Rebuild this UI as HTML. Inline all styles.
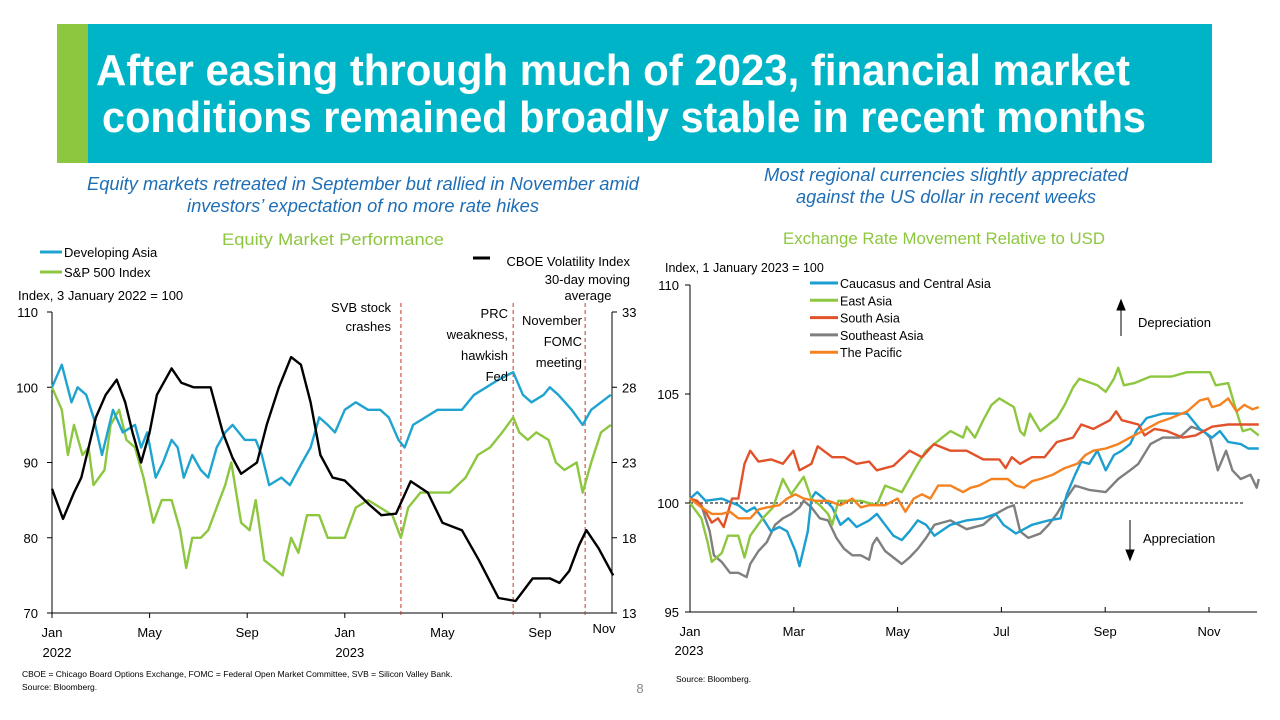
<!DOCTYPE html>
<html><head><meta charset="utf-8"><style>
html,body{margin:0;padding:0;background:#fff;width:1280px;height:720px;overflow:hidden}
svg{display:block;font-family:"Liberation Sans",sans-serif}
</style></head><body>
<svg id="s" width="1280" height="720" viewBox="0 0 1280 720">
<rect x="57" y="24" width="32" height="139" fill="#8DC63F"/>
<rect x="88" y="24" width="1124" height="139" fill="#00B4C8"/>
<text x="96" y="85" fill="#fff" font-size="44" font-weight="bold" textLength="1034" lengthAdjust="spacingAndGlyphs">After easing through much of 2023, financial market</text>
<text x="102" y="132" fill="#fff" font-size="44" font-weight="bold" textLength="1044" lengthAdjust="spacingAndGlyphs">conditions remained broadly stable in recent months</text>
<g fill="#1F6EB5" font-style="italic" font-size="18" text-anchor="middle">
<text x="363" y="190" textLength="552" lengthAdjust="spacingAndGlyphs">Equity markets retreated in September but rallied in November amid</text>
<text x="363" y="212" textLength="352" lengthAdjust="spacingAndGlyphs">investors’ expectation of no more rate hikes</text>
<text x="946" y="181" textLength="364" lengthAdjust="spacingAndGlyphs">Most regional currencies slightly appreciated</text>
<text x="946" y="203" textLength="300" lengthAdjust="spacingAndGlyphs">against the US dollar in recent weeks</text>
</g>
<g fill="#8DC63F" font-size="17" text-anchor="middle">
<text x="333" y="245" textLength="222" lengthAdjust="spacingAndGlyphs">Equity Market Performance</text>
<text x="944" y="244" textLength="322" lengthAdjust="spacingAndGlyphs">Exchange Rate Movement Relative to USD</text>
</g>
<g id="L"></g><g id="R"></g>
<text x="22" y="677" font-size="8.5" fill="#000">CBOE = Chicago Board Options Exchange, FOMC = Federal Open Market Committee, SVB = Silicon Valley Bank.</text>
<text x="22" y="690" font-size="8.5" fill="#000">Source: Bloomberg.</text>
<text x="676" y="682" font-size="8.5" fill="#000">Source: Bloomberg.</text>
<text x="640" y="693" font-size="13" fill="#888" text-anchor="middle">8</text>
</svg>
<script>
// ===== Left chart data (t = months since Jan 2022) =====
const daT=[0,.4,.8,1.05,1.4,1.7,2.05,2.5,2.9,3.4,3.65,3.9,4.25,4.55,4.9,5.15,5.4,5.75,6.1,6.4,6.75,7.1,7.4,7.9,8.35,8.6,8.9,9.4,9.75,10.25,10.6,10.95,11.3,11.6,12,12.45,12.95,13.45,13.8,14.2,14.45,14.8,15.3,15.8,16.3,16.8,17.3,17.8,18.3,18.9,19.3,19.65,20.15,20.4,20.75,21.3,21.75,22.1,22.5,22.9];
const daV=[100,103,98,100,99,96,91,97,94,95,92,94,88,90,93,92,88,91,89,88,92,94,95,93,93,91,87,88,87,90,92,96,95,94,97,98,97,97,96,93,92,95,96,97,97,97,99,100,101,102,99,98,99,100,99,97,95,97,98,99];
const spT=[0,.4,.65,.9,1.25,1.5,1.7,2.15,2.4,2.75,3.05,3.4,3.75,4.15,4.5,4.9,5.25,5.5,5.75,6.1,6.4,6.75,7.1,7.35,7.75,8.1,8.35,8.7,9.1,9.45,9.8,10.1,10.45,10.95,11.3,11.6,12,12.45,12.95,13.45,13.95,14.3,14.6,15.1,15.6,16.3,16.95,17.45,17.95,18.45,18.9,19.15,19.5,19.85,20.35,20.65,21,21.5,21.75,22.1,22.5,22.9];
const spV=[100,97,91,95,91,92,87,89,95,97,93,92,88,82,85,85,81,76,80,80,81,84,87,90,82,81,85,77,76,75,80,78,83,83,80,80,80,84,85,84,83,80,84,86,86,86,88,91,92,94,96,94,93,94,93,90,89,90,86,90,94,95];
const vxT=[0,.45,.9,1.2,1.8,2.2,2.65,3.0,3.3,3.65,4.0,4.3,4.9,5.3,5.8,6.5,7.0,7.4,7.75,8.4,8.8,9.3,9.8,10.2,10.6,11.0,11.5,12.0,12.5,13.0,13.5,14.1,14.7,15.4,16.0,16.8,17.5,18.3,19.0,19.7,20.4,20.8,21.2,21.6,21.9,22.4,23.0];
const vxV=[21.25,19.25,21,22,26,27.5,28.5,27,25,23,25,27.5,29.25,28.3,28,28,25,23.3,22.25,23,25.5,28,30,29.5,27,23.5,22,21.8,21,20.2,19.5,19.6,21.75,21,19,18.5,16.5,14,13.8,15.3,15.3,15,15.8,17.5,18.5,17.3,15.5];
const leftTicks=[110,100,90,80,70];
const rightTicks=[33,28,23,18,13];
const leftXLabels=["Jan","May","Sep","Jan","May","Sep"];
const leftXMonths=[0,4,8,12,16,20];
const eventT=[14.3,18.9,21.85];
// ===== Right chart data (t = months since Jan 2023) =====
const caT=[0,.14,.3,.61,.93,1.09,1.24,1.4,1.56,1.72,1.87,2.03,2.11,2.19,2.27,2.34,2.42,2.58,2.74,2.9,3.05,3.21,3.45,3.6,3.76,3.92,4.08,4.23,4.39,4.55,4.71,5.02,5.33,5.65,5.89,6.04,6.28,6.59,6.91,7.14,7.26,7.42,7.54,7.69,7.85,8.01,8.17,8.32,8.48,8.6,8.8,9.11,9.43,9.58,9.82,10.06,10.21,10.37,10.61,10.76,10.96];
const caV=[100.2,100.5,100.1,100.2,99.9,99.6,99.8,99.3,98.7,98.9,98.7,97.8,97.1,97.9,98.7,100.2,100.5,100.2,99.8,99.0,99.3,98.9,99.2,99.5,99.0,98.5,98.3,98.7,99.2,99.0,98.5,99.0,99.2,99.3,99.5,99.0,98.6,99.0,99.2,99.3,100.4,101.3,101.9,101.8,102.4,101.5,102.2,102.4,102.7,103.3,103.9,104.1,104.1,104.1,103.4,103.0,103.3,102.8,102.7,102.5,102.5];
const eaT=[0,.22,.34,.42,.61,.73,.93,1.05,1.16,1.4,1.6,1.79,1.95,2.19,2.34,2.5,2.66,2.74,2.86,3.29,3.6,3.76,4.08,4.39,4.55,4.86,5.02,5.26,5.33,5.49,5.65,5.81,5.96,6.24,6.36,6.44,6.55,6.75,6.91,7.07,7.22,7.38,7.5,7.85,8.01,8.17,8.25,8.36,8.56,8.87,9.27,9.58,9.82,10.02,10.13,10.37,10.53,10.65,10.8,10.96];
const eaV=[100,99.3,98.2,97.3,97.7,98.5,98.5,97.5,98.5,99.3,99.8,101.1,100.4,101.2,100.2,99.9,99.5,99.0,100.1,100.1,99.9,100.8,100.5,101.8,102.4,103.0,103.3,103.0,103.5,103.0,103.8,104.5,104.8,104.4,103.3,103.1,104.1,103.3,103.6,103.9,104.5,105.3,105.7,105.4,105.1,105.7,106.2,105.4,105.5,105.8,105.8,106.0,106.0,106.0,105.4,105.5,104.2,103.3,103.4,103.1];
const saT=[0,.14,.3,.42,.54,.65,.81,.93,1.05,1.16,1.32,1.56,1.79,1.99,2.11,2.34,2.46,2.74,2.97,3.21,3.45,3.6,3.92,4.23,4.47,4.7,5.02,5.33,5.65,5.96,6.08,6.2,6.36,6.59,6.83,7.07,7.38,7.54,7.77,8.09,8.21,8.32,8.64,8.76,8.95,9.19,9.5,9.74,10.06,10.37,10.68,10.96];
const saV=[100.2,100.1,99.6,99.1,99.3,98.9,100.2,100.2,101.8,102.4,101.9,102.0,101.8,102.4,101.5,101.8,102.6,102.1,102.1,101.8,101.9,101.5,101.7,102.4,102.1,102.7,102.4,102.4,102.0,102.0,101.6,102.1,101.8,102.1,102.1,102.8,103.0,103.6,103.4,103.8,104.2,103.8,103.6,103.1,103.4,103.3,103.0,103.1,103.5,103.6,103.6,103.6];
const seT=[0,.22,.38,.46,.61,.77,.93,1.09,1.16,1.32,1.48,1.64,1.79,1.95,2.11,2.19,2.34,2.5,2.66,2.82,2.97,3.13,3.29,3.45,3.52,3.6,3.76,3.92,4.08,4.23,4.39,4.55,4.71,5.02,5.33,5.65,5.89,6.12,6.24,6.36,6.52,6.75,6.91,7.07,7.22,7.42,7.69,8.01,8.25,8.48,8.64,8.87,9.11,9.43,9.66,9.9,10.02,10.17,10.33,10.45,10.61,10.8,10.92,10.96];
const seV=[100.2,99.9,98.7,97.6,97.3,96.8,96.8,96.6,97.2,97.8,98.2,99.0,99.3,99.5,99.8,100.1,99.8,99.3,99.2,98.4,97.9,97.6,97.6,97.4,98.1,98.4,97.8,97.5,97.2,97.5,97.9,98.4,99.0,99.2,98.8,99.0,99.5,99.8,99.9,98.7,98.4,98.6,99.0,99.5,100.1,100.8,100.6,100.5,101.1,101.5,101.8,102.7,103.0,103.0,103.5,103.3,103.0,101.5,102.4,101.5,101.1,101.3,100.7,101.1];
const paT=[0,.22,.42,.61,.77,.93,1.16,1.32,1.48,1.72,1.87,2.03,2.19,2.42,2.66,2.9,3.13,3.29,3.45,3.76,4.0,4.15,4.31,4.47,4.63,4.78,5.02,5.26,5.41,5.57,5.81,6.12,6.28,6.44,6.59,6.75,6.99,7.22,7.46,7.62,7.77,8.01,8.25,8.48,8.72,9.03,9.27,9.58,9.82,9.98,10.06,10.21,10.37,10.53,10.68,10.84,10.96];
const paV=[100.2,99.8,99.5,99.5,99.6,99.3,99.3,99.7,99.8,99.9,100.2,100.4,100.2,100.1,100.1,99.9,100.2,99.8,99.9,99.9,100.2,99.6,100.2,100.4,100.2,100.8,100.8,100.5,100.7,100.8,101.1,101.1,100.8,100.7,101.0,101.1,101.3,101.6,101.8,102.2,102.4,102.5,102.7,103.0,103.3,103.7,103.9,104.2,104.7,104.8,104.4,104.5,104.8,104.2,104.5,104.3,104.4];
const rTicks=[110,105,100,95];
const rXLabels=["Jan","Mar","May","Jul","Sep","Nov"];
const rXMonths=[0,2,4,6,8,10];

const NS="http://www.w3.org/2000/svg";
function mk(parent,tag,attrs,txt){const e=document.createElementNS(NS,tag);for(const k in attrs)e.setAttribute(k,attrs[k]);if(txt!==undefined)e.textContent=txt;parent.appendChild(e);return e;}
const xL=t=>52+t*24.4, yL=v=>312+(110-v)/40*301, yV=v=>312+(33-v)/20*301;
const xR=t=>690+t*51.9, yRr=v=>285+(110-v)/15*327;
function path(T,V,fx,fy){return T.map((t,i)=>(i?'L':'M')+fx(t).toFixed(1)+','+fy(V[i]).toFixed(1)).join('');}

const L=document.getElementById('L');
let a=mk(L,'path',{d:'M52,312V613H612V312',fill:'none',stroke:'#000','stroke-width':1});


leftTicks.forEach(v=>{
  let tk=mk(L,'line',{x1:47,x2:52,y1:yL(v),y2:yL(v),stroke:'#000'});
  
  
  let lb=mk(L,'text',{x:38,y:yL(v)+5,'font-size':13,'text-anchor':'end'},v);
  
  
});
rightTicks.forEach(v=>{
  let tk=mk(L,'line',{x1:612,x2:617,y1:yV(v),y2:yV(v),stroke:'#000'});
  
  
  let lb=mk(L,'text',{x:622,y:yV(v)+5,'font-size':13},v);
  
  
});
leftXMonths.forEach((m,i)=>{
  let tk=mk(L,'line',{x1:xL(m),x2:xL(m),y1:613,y2:618,stroke:'#000'});
  
  
  let lb=mk(L,'text',{x:xL(m),y:637,'font-size':13,'text-anchor':'middle'},leftXLabels[i]);
  
  
});
[['2022',0],['2023',12]].forEach(p=>{let lb=mk(L,'text',{x:xL(p[1])+5,y:657,'font-size':13,'text-anchor':'middle'},p[0]);
  
  });
let nov=mk(L,'text',{x:604,y:633,'font-size':13,'text-anchor':'middle'},'Nov');


eventT.forEach(t=>{let e=mk(L,'line',{x1:xL(t),x2:xL(t),y1:303,y2:615,stroke:'#C0392B','stroke-width':1,'stroke-dasharray':'4,3'});
  
  });
[[spT,spV,yL,'#8DC63F','sp500-line'],[daT,daV,yL,'#1FA4D0','developing-asia-line'],[vxT,vxV,yV,'#000','vix-line']].forEach(s=>{
  let p=mk(L,'path',{d:path(s[0],s[1],xL,s[2]),fill:'none',stroke:s[3],'stroke-width':2.4,'stroke-linejoin':'round'});
  
  
});
[[40,62,252,'#1FA4D0','Developing Asia'],[40,62,272,'#8DC63F','S&P 500 Index']].forEach(g=>{
  let l=mk(L,'line',{x1:g[0],x2:g[1],y1:g[2],y2:g[2],stroke:g[3],'stroke-width':3});
  
  
  let t=mk(L,'text',{x:g[1]+2,y:g[2]+5,'font-size':13},g[4]);
  
  
});
let vl=mk(L,'line',{x1:473,x2:490,y1:258,y2:258,stroke:'#000','stroke-width':3});


const txts=[[630,266,'end','CBOE Volatility Index'],[630,284,'end','30-day moving'],[588,300,'middle','average'],[18,300,'start','Index, 3 January 2022 = 100'],
[391,312,'end','SVB stock'],[391,331,'end','crashes'],[508,318,'end','PRC'],[508,339,'end','weakness,'],[508,360,'end','hawkish'],[508,381,'end','Fed'],
[582,325,'end','November'],[582,346,'end','FOMC'],[582,367,'end','meeting']];
txts.forEach(q=>{let t=mk(L,'text',{x:q[0],y:q[1],'font-size':13,'text-anchor':q[2]},q[3]);
  
  });

const R=document.getElementById('R');
let ra=mk(R,'path',{d:'M690,285V612H1257',fill:'none',stroke:'#000','stroke-width':1});


rTicks.forEach(v=>{
  let tk=mk(R,'line',{x1:685,x2:690,y1:yRr(v),y2:yRr(v),stroke:'#000'});
  
  
  let lb=mk(R,'text',{x:679,y:yRr(v)+5,'font-size':13,'text-anchor':'end'},v);
  
  
});
rXMonths.forEach((m,i)=>{
  let tk=mk(R,'line',{x1:xR(m),x2:xR(m),y1:607,y2:612,stroke:'#000'});
  
  
  let lb=mk(R,'text',{x:xR(m),y:636,'font-size':13,'text-anchor':'middle'},rXLabels[i]);
  
  
});
let ry=mk(R,'text',{x:689,y:655,'font-size':13,'text-anchor':'middle'},'2023');


let base=mk(R,'line',{x1:690,x2:1245,y1:yRr(100),y2:yRr(100),stroke:'#000','stroke-dasharray':'3,2'});


const rSeries=[[caT,caV,'#1B9ED0','Caucasus and Central Asia','caucasus-line'],[eaT,eaV,'#8DC63F','East Asia','east-asia-line'],[saT,saV,'#E2522A','South Asia','south-asia-line'],[seT,seV,'#7F7F7F','Southeast Asia','southeast-asia-line'],[paT,paV,'#F58220','The Pacific','pacific-line']];
[3,0,1,2,4].forEach(i=>{const s=rSeries[i];
  let p=mk(R,'path',{d:path(s[0],s[1],xR,yRr),fill:'none',stroke:s[2],'stroke-width':2.4,'stroke-linejoin':'round'});
  
  
});
rSeries.forEach((s,i)=>{const y=283+i*17.3;
  let l=mk(R,'line',{x1:810,x2:838,y1:y,y2:y,stroke:s[2],'stroke-width':3});
  
  
  let t=mk(R,'text',{x:840,y:y+5,'font-size':12.5},s[3]);
  
  
});
let it=mk(R,'text',{x:665,y:272,'font-size':12.5},'Index, 1 January 2023 = 100');


let au=mk(R,'path',{d:'M1121,336V304M1117,310L1121,300L1125,310Z',stroke:'#000',fill:'#000'});


let dt=mk(R,'text',{x:1138,y:327,'font-size':13},'Depreciation');


let ad=mk(R,'path',{d:'M1130,520V554M1126,550L1130,560L1134,550Z',stroke:'#000',fill:'#000'});


let at=mk(R,'text',{x:1143,y:543,'font-size':13},'Appreciation');


</script>
</body></html>
